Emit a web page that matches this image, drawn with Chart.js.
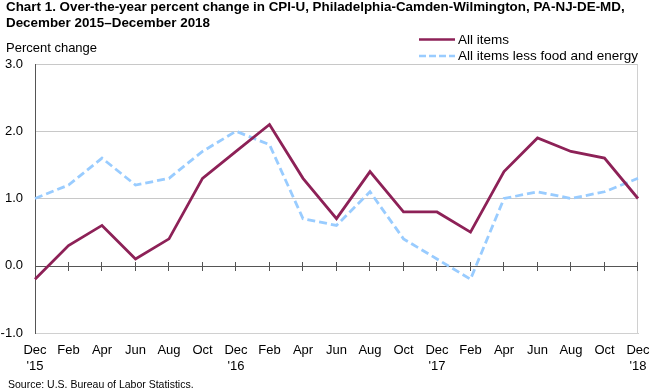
<!DOCTYPE html>
<html>
<head>
<meta charset="utf-8">
<script src="https://cdn.jsdelivr.net/npm/chart.js@4/dist/chart.umd.min.js"></script>
<style>
  html, body { margin: 0; padding: 0; background: #fff; }
  #wrap { position: relative; width: 650px; height: 389px; }
</style>
</head>
<body>
<div id="wrap"><canvas id="cpi" width="650" height="389"></canvas></div>
<script>
// data
const months = [
  ['Dec', "'15"], 'Feb', 'Apr', 'Jun', 'Aug', 'Oct',
  ['Dec', "'16"], 'Feb', 'Apr', 'Jun', 'Aug', 'Oct',
  ['Dec', "'17"], 'Feb', 'Apr', 'Jun', 'Aug', 'Oct',
  ['Dec', "'18"]
];
const allItems = [-0.2, 0.3, 0.6, 0.1, 0.4, 1.3, 1.7, 2.1, 1.3, 0.7, 1.4, 0.8, 0.8, 0.5, 1.4, 1.9, 1.7, 1.6, 1.0];
const coreItems = [1.0, 1.2, 1.6, 1.2, 1.3, 1.7, 2.0, 1.8, 0.7, 0.6, 1.1, 0.4, 0.1, -0.2, 1.0, 1.1, 1.0, 1.1, 1.3];
const yTicks = [-1, 0, 1, 2, 3];

const FONT = '"Liberation Sans", Arial, sans-serif';
const MAROON = '#8d2157';
const LIGHTBLUE = '#99ccff';

// zero axis with cross ticks, drawn under the series
const zeroAxisPlugin = {
  id: 'zeroAxis',
  beforeDatasetsDraw(chart) {
    const ctx = chart.ctx;
    const area = chart.chartArea;
    const x = chart.scales.x;
    const y = chart.scales.y;
    const left = Math.round(area.left);
    const right = Math.round(area.right);
    ctx.save();
    // right border
    ctx.fillStyle = '#d0d0d0';
    ctx.fillRect(right - 1, Math.round(area.top), 1, Math.round(area.bottom - area.top));

    // zero line
    const y0 = Math.round(y.getPixelForValue(0));
    ctx.fillStyle = '#555555';
    ctx.fillRect(left, y0, right - left, 1);
    for (let i = 1; i < months.length; i++) {
      const px = Math.round(x.getPixelForValue(i));
      ctx.fillRect(px - 1, y0 - 4, 1, 9);
    }
    ctx.restore();
  }
};

// title, axis caption, legend and source
const textPlugin = {
  id: 'texts',
  afterDraw(chart) {
    const ctx = chart.ctx;
    ctx.save();
    ctx.fillStyle = '#000';
    ctx.textBaseline = 'alphabetic';
    ctx.font = 'bold 13.4px ' + FONT;
    ctx.fillText('Chart 1. Over-the-year percent change in CPI-U, Philadelphia-Camden-Wilmington, PA-NJ-DE-MD,', 6, 11);
    ctx.fillText('December 2015\u2013December 2018', 6, 27);

    ctx.font = '13px ' + FONT;
    ctx.fillText('Percent change', 6, 52);

    // legend
    ctx.lineWidth = 2.5;
    ctx.strokeStyle = MAROON;
    ctx.beginPath();
    ctx.moveTo(419, 39.5);
    ctx.lineTo(455, 39.5);
    ctx.stroke();
    ctx.strokeStyle = LIGHTBLUE;
    ctx.setLineDash([7, 3]);
    ctx.beginPath();
    ctx.moveTo(419, 56);
    ctx.lineTo(455, 56);
    ctx.stroke();
    ctx.setLineDash([]);
    ctx.font = '13.5px ' + FONT;
    ctx.fillText('All items', 458, 44);
    ctx.fillText('All items less food and energy', 458, 60);

    ctx.font = '10.5px ' + FONT;
    ctx.fillText('Source: U.S. Bureau of Labor Statistics.', 8, 387.5);
    ctx.restore();
  }
};

new Chart(document.getElementById('cpi'), {
  type: 'line',
  data: {
    labels: months,
    datasets: [
      {
        label: 'All items',
        data: allItems,
        borderColor: MAROON,
        borderWidth: 2.8,
        pointRadius: 0,
        tension: 0,
        order: 1
      },
      {
        label: 'All items less food and energy',
        data: coreItems,
        borderColor: LIGHTBLUE,
        borderWidth: 2.8,
        borderDash: [8, 4],
        pointRadius: 0,
        tension: 0,
        order: 2
      }
    ]
  },
  options: {
    responsive: false,
    animation: false,
    layout: { padding: { top: 64, right: 12, left: 0, bottom: 10 } },
    plugins: {
      legend: { display: false },
      tooltip: { enabled: false }
    },
    scales: {
      x: {
        type: 'category',
        offset: false,
        afterFit: (s) => {
          s.height = 46;
          s.paddingLeft = 0;
          s.paddingRight = 0;
        },
        grid: { display: false, drawTicks: false },
        border: { display: true, color: '#d0d0d0', width: 1 },
        ticks: {
          autoSkip: false,
          maxRotation: 0,
          padding: 10,
          color: '#000',
          font: { family: FONT, size: 13 }
        }
      },
      y: {
        min: -1,
        max: 3,
        afterFit: (s) => { s.width = 35; },
        afterBuildTicks: (s) => { s.ticks = yTicks.map(v => ({ value: v })); },
        grid: { color: (c) => c.tick.value === 0 ? 'rgba(0,0,0,0)' : '#c8c8c8', drawTicks: false, lineWidth: 1 },
        border: { display: true, color: '#555555', width: 1 },
        ticks: {
          padding: 12,
          color: '#000',
          font: { family: FONT, size: 13 },
          callback: (v) => v.toFixed(1)
        }
      }
    }
  },
  plugins: [zeroAxisPlugin, textPlugin]
});
</script>
</body>
</html>
